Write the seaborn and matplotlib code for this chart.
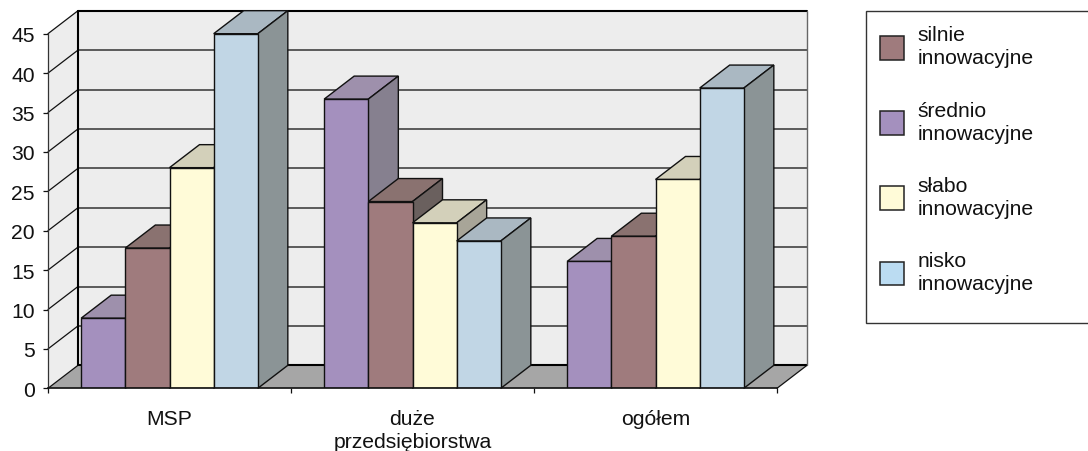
import pandas as pd
import matplotlib.pyplot as plt
import seaborn as sns
from matplotlib.legend_handler import HandlerPatch
from matplotlib.patches import Patch, Polygon, Rectangle

# Values
categories = ['MSP', 'duże\nprzedsiębiorstwa', 'ogółem']
srednio = [8.9, 36.7, 16.1]
silnie = [17.8, 23.7, 19.3]
slabo = [28.0, 21.0, 26.5]
nisko = [45.0, 18.7, 38.1]
y_ticks = [0, 5, 10, 15, 20, 25, 30, 35, 40, 45]

# legend order differs from the order of the bars
legend_names = ['silnie\ninnowacyjne', 'średnio\ninnowacyjne', 'słabo\ninnowacyjne', 'nisko\ninnowacyjne']
bar_order = ['średnio\ninnowacyjne', 'silnie\ninnowacyjne', 'słabo\ninnowacyjne', 'nisko\ninnowacyjne']

front = {'silnie\ninnowacyjne': '#9F7B7D', 'średnio\ninnowacyjne': '#A490BE',
         'słabo\ninnowacyjne': '#FFFBD8', 'nisko\ninnowacyjne': '#C1D6E5'}
legend_colors = {'silnie\ninnowacyjne': '#9F7B7D', 'średnio\ninnowacyjne': '#A490BE',
                 'słabo\ninnowacyjne': '#FFFBD8', 'nisko\ninnowacyjne': '#BBDCF2'}
top_face = {'silnie\ninnowacyjne': '#8A7270', 'średnio\ninnowacyjne': '#9E90AC',
            'słabo\ninnowacyjne': '#D3D0BA', 'nisko\ninnowacyjne': '#AAB8C2'}
side_face = {'silnie\ninnowacyjne': '#6A605E', 'średnio\ninnowacyjne': '#86808F',
             'słabo\ninnowacyjne': '#A8A598', 'nisko\ninnowacyjne': '#8B9496'}

sns.set_style('white')
plt.rcParams['font.family'] = ['Liberation Sans', 'DejaVu Sans']

data = pd.DataFrame({
    'kategoria': categories * 4,
    'grupa': sum([[n] * 3 for n in bar_order], []),
    'wartosc': srednio + silnie + slabo + nisko,
})

W, H = 1088, 452
fig = plt.figure(figsize=(W / 100, H / 100), dpi=100)
# axes = front plane of the fake 3D box
left, right, top, bottom = 48, 777, 34.7, 389.3
ax = fig.add_axes([left / W, 1 - bottom / H, (right - left) / W, (bottom - top) / H])
ax.patch.set_visible(False)

sns.barplot(data=data, x='kategoria', y='wartosc', hue='grupa', hue_order=bar_order,
            palette=front, saturation=1, width=0.727, edgecolor='#111111', linewidth=1.0,
            legend=False, ax=ax)
ax.set_xlim(-0.5, 2.5)
ax.set_ylim(0, 45)
ax.set_xlabel('')
ax.set_ylabel('')

# depth of the box, 30 px right and 23 px up, in data units
dx = 30 * 3 / (right - left)
dy = 23 * 45 / (bottom - top)
x0, x1 = -0.5, 2.5
y1 = y_ticks[-1]

# walls and floor
ax.add_patch(Polygon([(x0 + dx, dy), (x1 + dx, dy), (x1 + dx, y1 + dy), (x0 + dx, y1 + dy)],
                     fc='#EDEDED', ec='none', clip_on=False, zorder=0.5))
ax.add_patch(Polygon([(x0, 0), (x0 + dx, dy), (x0 + dx, y1 + dy), (x0, y1)],
                     fc='#EDEDED', ec='none', clip_on=False, zorder=0.5))
ax.add_patch(Polygon([(x0, 0), (x1, 0), (x1 + dx, dy), (x0 + dx, dy)],
                     fc='#A6A6A6', ec='none', clip_on=False, zorder=0.6))
for v in y_ticks[1:-1]:
    ax.plot([x0 + dx, x1 + dx], [v + dy, v + dy], color='#333333', lw=1.1, clip_on=False, zorder=0.8)
for v in y_ticks:
    ax.plot([x0, x0 + dx], [v, v + dy], color='#111111', lw=0.9, clip_on=False, zorder=0.8)
ax.plot([x1, x1 + dx], [0, dy], color='#111111', lw=0.9, clip_on=False, zorder=0.8)
ax.plot([x0 + dx, x0 + dx], [dy, y1 + dy], color='black', lw=1.5, clip_on=False, zorder=0.9)
ax.plot([x0 + dx, x1 + dx], [y1 + dy, y1 + dy], color='black', lw=1.5, clip_on=False, zorder=0.9)
ax.plot([x0 + dx, x1 + dx], [dy, dy], color='black', lw=1.5, clip_on=False, zorder=0.9)
ax.plot([x1 + dx, x1 + dx], [dy, y1 + dy], color='#666666', lw=1.0, clip_on=False, zorder=0.9)

# top and side of every bar, drawn left to right so each one covers the previous
bars = []
for name, container in zip(bar_order, ax.containers):
    for bar in container:
        bars.append((bar.get_x(), name, bar))
bars.sort(key=lambda b: b[0])

for i, (x, name, bar) in enumerate(bars):
    w, h = bar.get_width(), bar.get_height()
    z = 3 + i
    bar.set_zorder(z + 0.5)
    ax.add_patch(Polygon([(x, h), (x + dx, h + dy), (x + w + dx, h + dy), (x + w, h)],
                         fc=top_face[name], ec='#111111', lw=1.0, clip_on=False, zorder=z))
    ax.add_patch(Polygon([(x + w, 0), (x + w + dx, dy), (x + w + dx, h + dy), (x + w, h)],
                         fc=side_face[name], ec='#111111', lw=1.0, clip_on=False, zorder=z))

# ticks sit on the category borders, labels in the middle
ax.set_xticks([-0.5, 0.5, 1.5, 2.5])
ax.set_xticklabels([])
ax.set_xticks([0, 1, 2], minor=True)
ax.set_xticklabels(categories, minor=True, fontsize=15.2, color='#111111', linespacing=1.27)
ax.set_yticks(y_ticks)
ax.set_yticklabels(y_ticks, fontsize=15.2, color='#111111')
ax.tick_params(axis='x', which='major', length=3.6, width=0.9, color='#111111', bottom=True)
ax.tick_params(axis='x', which='minor', length=0, pad=15)
ax.tick_params(axis='y', length=3.6, width=0.9, color='#111111', pad=6, left=True)

sns.despine(ax=ax, top=True, right=True)
ax.spines['left'].set_color('#333333')
ax.spines['left'].set_linewidth(0.9)
ax.spines['bottom'].set_color('#111111')
ax.spines['bottom'].set_linewidth(1.2)
ax.spines['bottom'].set_zorder(30)

# legend box runs past the right edge of the picture
fig.add_artist(Rectangle((866 / W, 1 - 323.7 / H), 240 / W, (323.7 - 12) / H, transform=fig.transFigure,
                         fc='white', ec='#333333', lw=1.0))
handles = [Patch(facecolor=legend_colors[n], edgecolor='#222222', linewidth=1.1) for n in legend_names]
# negative ypad pushes the swatch down a bit next to its two text lines
leg = fig.legend(handles, legend_names, loc='upper left', bbox_to_anchor=(866 / W, 1 - 12 / H),
                 frameon=False, fontsize=15.2, handlelength=1.1, handleheight=1.2,
                 handletextpad=0.68, labelspacing=1.57, borderpad=0.68, borderaxespad=0,
                 handler_map={Patch: HandlerPatch(ypad=-0.095)})
for t in leg.get_texts():
    t.set_color('#111111')
    t.set_linespacing(1.27)

fig.savefig('out.png', dpi=100)
